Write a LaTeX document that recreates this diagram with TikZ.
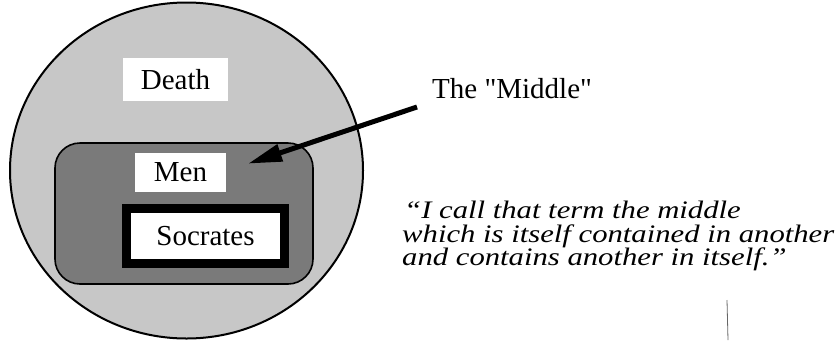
\documentclass[tikz,border=0pt]{standalone}
\usepackage{fontspec}
\setmainfont{Liberation Serif}
\newfontfamily\plainquotes{Liberation Serif}[Ligatures=TeXOff]
\usetikzlibrary{arrows.meta,shapes.geometric}
\newcommand{\quotefont}{\fontsize{28}{24}\selectfont\itshape}
\newlength{\quotewidth}
\tikzset{
  plaintext/.style={font=\fontsize{29}{32}\selectfont, inner sep=0pt},
  whitebox/.style={fill=white, draw=none, inner sep=0pt, font=\fontsize{29}{32}\selectfont},
  quotetext/.style={anchor=base west, inner sep=0pt, font=\quotefont},
  pointer/.style={line width=5pt, -{Triangle[length=34pt,width=17pt]}, shorten >=-2pt},
}
\newcommand{\qline}[1]{\scalebox{\qxscale}[0.9]{#1}}
\begin{document}
\settowidth{\quotewidth}{\quotefont which is itself contained in another}
\pgfmathsetmacro{\qxscale}{432/\quotewidth}
\begin{tikzpicture}[x=1pt,y=-1pt]
\useasboundingbox (0,0) rectangle (840,341);
% outer circle (Death)
\node (death-set) [draw=black, line width=2pt, fill=black!22, ellipse, minimum width=353pt, minimum height=336pt, inner sep=0pt] at (186.5,170.5) {};
% Men set
\node (men-set) [draw=black, line width=1.6pt, fill=black!52, rounded corners=25pt, minimum width=258pt, minimum height=141pt, inner sep=0pt] at (184,213.5) {};
% labels
\node (death) [whitebox, minimum width=105pt, minimum height=43pt] at (175.5,79.5) {Death};
\node (men) [whitebox, minimum width=91pt, minimum height=39pt] at (180.5,172.5) {Men};
\node (socrates) [whitebox, draw=black, line width=9pt, minimum width=158pt, minimum height=55pt] at (205.5,236) {Socrates};
% The Middle
\node (middle) [plaintext, anchor=base west] at (432,98) {\plainquotes The "Middle"};
\coordinate (tail) at (417,107);
\coordinate (tip) at (250,163);
\draw[pointer] (tail) -- (tip);
% quote
\node (q1) [quotetext] at (404,218) {\qline{“I call that term the middle}};
\node (q2) [quotetext] at (402,242) {\qline{which is itself contained in another}};
\node (q3) [quotetext] at (402,265) {\qline{and contains another in itself.”}};
% stray mark
\coordinate (m1) at (727,300);
\coordinate (m2) at (728,340);
\draw[black!60, line width=0.8pt] (m1) -- (m2);
\end{tikzpicture}
\end{document}
